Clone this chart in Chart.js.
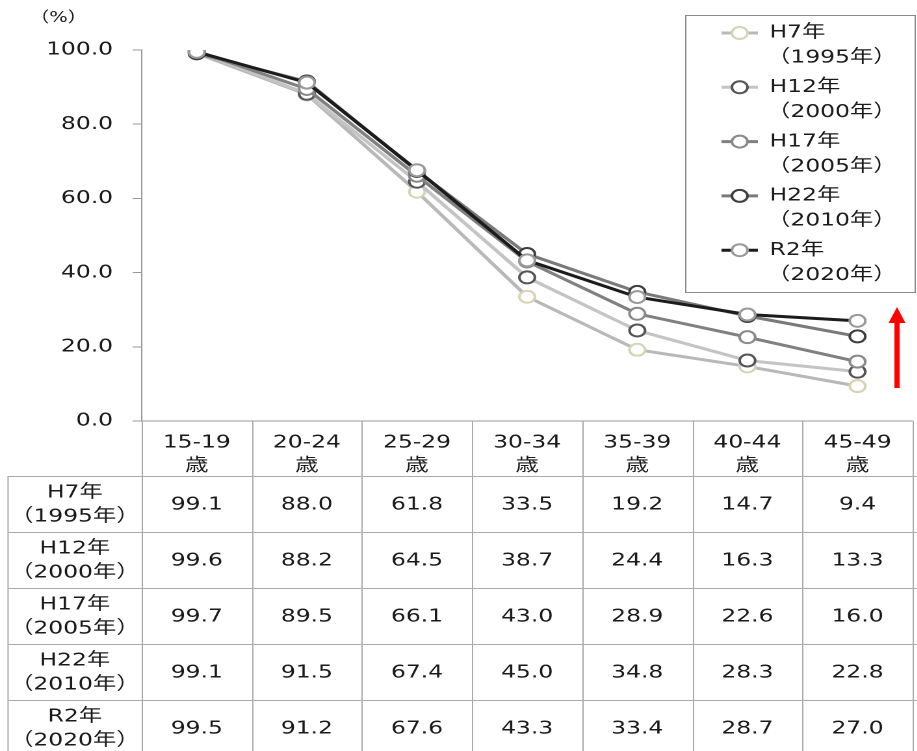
<!DOCTYPE html>
<html>
<head>
<meta charset="utf-8">
<style>
  html, body { margin: 0; padding: 0; background: #fff; overflow: hidden; }
  /* the original picture is stretched sideways, so the whole canvas is too */
  #wrap { width: 710px; height: 751px; transform: scaleX(1.3); transform-origin: 0 0; }
</style>
</head>
<body>
<div id="wrap"><canvas id="mychart" width="710" height="751"></canvas></div>
<script src="https://cdn.jsdelivr.net/npm/chart.js"></script>
<script>
// age groups and survey years
var ages = ['15-19', '20-24', '25-29', '30-34', '35-39', '40-44', '45-49'];
var yearNames = ['H7年', 'H12年', 'H17年', 'H22年', 'R2年'];
var yearWestern = ['（1995年）', '（2000年）', '（2005年）', '（2010年）', '（2020年）'];

// values (%)
var h7  = [99.1, 88.0, 61.8, 33.5, 19.2, 14.7, 9.4];
var h12 = [99.6, 88.2, 64.5, 38.7, 24.4, 16.3, 13.3];
var h17 = [99.7, 89.5, 66.1, 43.0, 28.9, 22.6, 16.0];
var h22 = [99.1, 91.5, 67.4, 45.0, 34.8, 28.3, 22.8];
var r2  = [99.5, 91.2, 67.6, 43.3, 33.4, 28.7, 27.0];

var yMin = 0, yMax = 100, yStep = 20;

var FONT = "'DejaVu Sans', 'Noto Sans CJK JP', sans-serif";
var series = [h7, h12, h17, h22, r2];
var lineColors = ['#b8b8b8', '#c4c4c4', '#808080', '#7a7a7a', '#1c1c1c'];
var markerColors = ['#d8d3b4', '#555555', '#8a8a8a', '#3f3f3f', '#9a9a9a'];

var datasets = series.map(function (d, i) {
  return {
    label: yearNames[i] + yearWestern[i],
    data: d,
    borderColor: lineColors[i],
    borderWidth: 3,
    pointRadius: 6,
    pointBorderWidth: 2,
    pointBackgroundColor: '#ffffff',
    pointBorderColor: markerColors[i],
    order: 5 - i,
    tension: 0
  };
});

// the data table under the x axis, plus legend, unit and arrow
var extras = {
  id: 'extras',
  afterDraw: function (chart) {
    var ctx = chart.ctx;
    var xs = chart.scales.x;
    var area = chart.chartArea;
    var half = (xs.getPixelForValue(1) - xs.getPixelForValue(0)) / 2;
    var headTop = area.bottom, rowTop = area.bottom + 55, rowH = 56;
    var tableLeft = 6.2, right = chart.width;
    ctx.save();
    ctx.strokeStyle = '#aaaaaa';
    ctx.lineWidth = 1;
    // vertical borders
    for (var i = 0; i <= ages.length; i++) {
      var bx = Math.round(area.left + i * half * 2) + 0.5;
      ctx.beginPath();
      ctx.moveTo(bx, headTop);
      ctx.lineTo(bx, chart.height);
      ctx.stroke();
    }
    ctx.beginPath();
    ctx.moveTo(tableLeft, rowTop);
    ctx.lineTo(tableLeft, chart.height);
    ctx.stroke();
    // horizontal borders
    for (var r = 0; r < series.length; r++) {
      var by = Math.round(rowTop + r * rowH) + 0.5;
      ctx.beginPath();
      ctx.moveTo(tableLeft, by);
      ctx.lineTo(right, by);
      ctx.stroke();
    }
    // cell text
    ctx.fillStyle = '#1a1a1a';
    ctx.font = '18px ' + FONT;
    ctx.textAlign = 'center';
    ctx.textBaseline = 'middle';
    var labelX = (tableLeft + area.left) / 2;
    for (r = 0; r < series.length; r++) {
      var top = rowTop + r * rowH;
      ctx.fillText(yearNames[r], labelX, top + 17);
      ctx.fillText(yearWestern[r], labelX, top + 41);
      for (var c = 0; c < ages.length; c++) {
        ctx.fillText(series[r][c].toFixed(1), xs.getPixelForValue(c), top + 29);
      }
    }

    // unit
    ctx.font = '15px ' + FONT;
    ctx.fillText('（%）', 45, 18);

    // legend box
    ctx.strokeStyle = '#8a8a8a';
    ctx.lineWidth = 1;
    ctx.strokeRect(527.5, 15.5, 176.5, 277);
    ctx.textAlign = 'left';
    ctx.font = '18px ' + FONT;
    for (i = 0; i < datasets.length; i++) {
      var ly = 33 + i * 54.3;
      ctx.strokeStyle = datasets[i].borderColor;
      ctx.lineWidth = 3;
      ctx.beginPath();
      ctx.moveTo(555, ly);
      ctx.lineTo(583, ly);
      ctx.stroke();
      ctx.beginPath();
      ctx.arc(569, ly, 6, 0, Math.PI * 2);
      ctx.fillStyle = '#ffffff';
      ctx.fill();
      ctx.lineWidth = 2;
      ctx.strokeStyle = datasets[i].pointBorderColor;
      ctx.stroke();
      ctx.fillStyle = '#1a1a1a';
      ctx.fillText(yearNames[i], 592, ly);
      ctx.fillText(yearWestern[i], 590, ly + 25);
    }

    // red arrow
    ctx.fillStyle = '#ff0000';
    ctx.fillRect(688, 322, 4, 66);
    ctx.beginPath();
    ctx.moveTo(690, 307);
    ctx.lineTo(696.5, 323);
    ctx.lineTo(683.5, 323);
    ctx.closePath();
    ctx.fill();
    ctx.restore();
  }
};

var ctx = document.getElementById('mychart');
var mychart = new Chart(ctx, {
  type: 'line',
  data: {
    labels: ages.map(function (a) { return [a, '歳']; }),
    datasets: datasets
  },
  options: {
    responsive: false,
    animation: false,
    devicePixelRatio: 2,
    layout: { padding: { top: 50, right: 0, left: 0, bottom: 0 } },
    plugins: { legend: { display: false }, tooltip: { enabled: false } },
    scales: {
      x: {
        offset: true,
        grid: { display: false },
        border: { display: true, color: '#999999' },
        ticks: {
          color: '#1a1a1a',
          padding: 2,
          maxRotation: 0,
          autoSkip: false,
          font: { family: FONT, size: 18, lineHeight: 1.3 }
        },
        afterFit: function (scale) { scale.height = 330; }
      },
      y: {
        min: yMin,
        max: yMax,
        grid: { drawOnChartArea: false, tickLength: 7, color: '#999999' },
        border: { display: true, color: '#999999' },
        ticks: {
          stepSize: yStep,
          padding: 15,
          color: '#1a1a1a',
          font: { family: FONT, size: 18 },
          callback: function (v) { return v.toFixed(1); }
        },
        afterFit: function (scale) { scale.width = 109; }
      }
    }
  },
  plugins: [extras]
});
</script>
</body>
</html>
